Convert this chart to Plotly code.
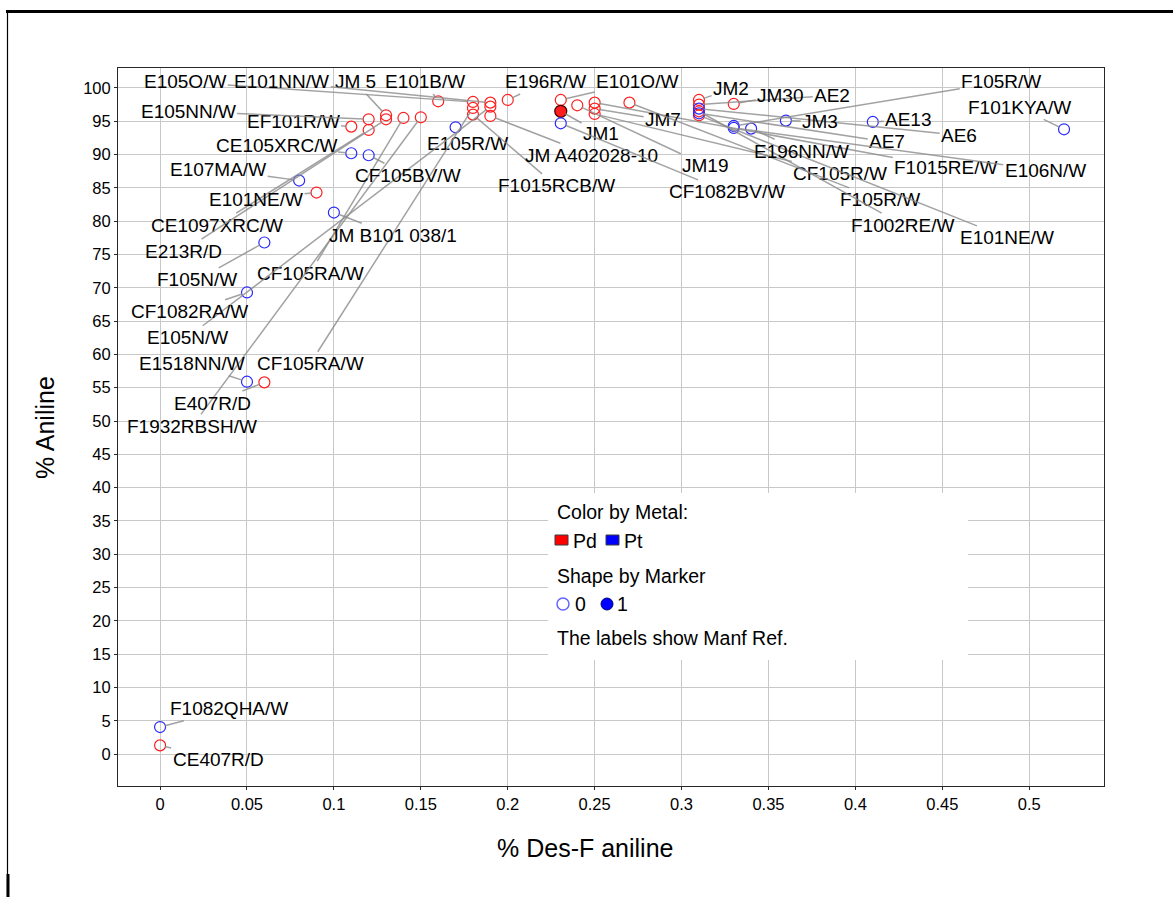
import plotly.graph_objects as go

# ---- data: % Des-F aniline vs % Aniline per catalyst ----
des_f_aniline = [
    0.110, 0.120, 0.120, 0.130, 0.130, 0.140, 0.150, 0.160, 0.170, 0.180,
    0.180, 0.180, 0.190, 0.190, 0.190, 0.200, 0.110, 0.120, 0.2305, 0.2305,
    0.2305, 0.240, 0.250, 0.250, 0.250, 0.270, 0.310, 0.310, 0.310, 0.310,
    0.310, 0.310, 0.330, 0.330, 0.330, 0.340, 0.360, 0.410, 0.520, 0.080,
    0.090, 0.100, 0.060, 0.050, 0.050, 0.060, 0.000, 0.000,
]
aniline = [
    94.2, 95.3, 93.7, 95.9, 95.3, 95.5, 95.6, 98.0, 94.1, 97.9,
    97.0, 96.0, 97.8, 97.2, 95.8, 98.2, 90.2, 89.9, 98.2, 96.5,
    94.7, 97.4, 97.8, 96.9, 96.1, 97.8, 98.2, 97.5, 96.9, 96.5,
    96.2, 95.9, 97.6, 94.3, 94.0, 93.9, 95.1, 94.9, 93.8, 86.1,
    84.3, 81.3, 76.8, 69.3, 55.9, 55.8, 4.05, 1.3,
]
metal = [
    "Pd", "Pd", "Pd", "Pd", "Pd", "Pd", "Pd", "Pd", "Pt", "Pd",
    "Pd", "Pd", "Pd", "Pd", "Pd", "Pd", "Pt", "Pt", "Pd", "Pd",
    "Pt", "Pd", "Pd", "Pd", "Pd", "Pd", "Pd", "Pd", "Pt", "Pd",
    "Pt", "Pd", "Pd", "Pt", "Pt", "Pt", "Pt", "Pt", "Pt", "Pt",
    "Pd", "Pt", "Pt", "Pt", "Pt", "Pd", "Pt", "Pd",
]
marker_flag = [0] * 19 + [1] + [0] * 28
manf_ref = [
    "EF101R/W", "E105NN/W", "CE1097XRC/W", "JM 5", "E213R/D", "CF105RA/W",
    "F1932RBSH/W", "E101B/W", "E105R/W", "E105O/W", "CF105RA/W", "F1015RCB/W",
    "E101NN/W", "E105N/W", "JM A402028-10", "E196R/W", "CE105XRC/W", "CF105BV/W",
    "E101O/W", "JM1", "CF1082BV/W", "JM19", "F1015RE/W", "JM7", "CF105R/W",
    "F105R/W", "JM2", "AE2", "AE6", "F1002RE/W", "AE7", "E101NE/W", "JM30",
    "F105R/W", "E106N/W", "E196NN/W", "JM3", "AE13", "F101KYA/W", "E107MA/W",
    "E101NE/W", "JM B101 038/1", "F105N/W", "CF1082RA/W", "E1518NN/W",
    "E407R/D", "F1082QHA/W", "CE407R/D",
]

# ---- label placement (axis units), one per point, same order ----
label_x = [
    0.0765, 0.0161, 0.0328, 0.1122, 0.0132, 0.0863, 0.0184, 0.1525, 0.1766, 0.0145,
    0.0863, 0.2278, 0.0700, 0.0155, 0.2480, 0.2215, 0.0667, 0.1427, 0.2745, 0.2537,
    0.3262, 0.3136, 0.4523, 0.2894, 0.3913, 0.4143, 0.3285, 0.3867, 0.4597, 0.4275,
    0.4183, 0.4873, 0.3567, 0.4839, 0.5092, 0.3688, 0.3797, 0.4304, 0.4942, 0.0334,
    0.0552, 0.1341, 0.0213, 0.0167, 0.0184, 0.0299, 0.0397, 0.0334,
]
label_y = [
    94.9, 96.5, 79.4, 100.9, 75.5, 72.2, 49.2, 100.9, 91.6, 100.9,
    58.6, 85.3, 100.9, 62.5, 89.9, 100.9, 91.3, 86.9, 100.9, 93.1,
    84.4, 88.4, 88.1, 95.2, 87.2, 83.2, 99.85, 98.9, 92.9, 79.4,
    91.9, 77.5, 98.9, 100.9, 87.6, 90.5, 95.0, 95.2, 97.1, 87.8,
    83.3, 77.9, 71.2, 66.4, 58.6, 52.7, 6.8, -0.75,
]

FONT = "Liberation Sans, Arial, sans-serif"
COLORS = {"Pd": "rgb(255,30,30)", "Pt": "rgb(40,40,255)"}

fig = go.Figure()

for m in ["Pd", "Pt"]:
    for flag in [0, 1]:
        idx = [i for i in range(len(aniline)) if metal[i] == m and marker_flag[i] == flag]
        if not idx:
            continue
        if flag == 0:
            mk = dict(symbol="circle-open", size=11, color=COLORS[m], line=dict(width=1.2))
        else:
            mk = dict(symbol="circle", size=12, color=COLORS[m],
                      line=dict(width=1.2, color="rgb(70,0,0)"))
        fig.add_trace(go.Scatter(
            x=[des_f_aniline[i] for i in idx],
            y=[aniline[i] for i in idx],
            mode="markers", marker=mk, showlegend=False,
            text=[manf_ref[i] for i in idx], hoverinfo="text+x+y",
        ))

annotations = []
for i in range(len(aniline)):
    annotations.append(dict(
        x=des_f_aniline[i], y=aniline[i], xref="x", yref="y",
        ax=label_x[i], ay=label_y[i], axref="x", ayref="y",
        text=manf_ref[i], showarrow=True, arrowhead=0, arrowwidth=1.5,
        arrowcolor="rgba(140,140,140,0.8)", standoff=5,
        font=dict(family=FONT, size=19, color="black"),
    ))

# plot area in pixels: x 118..1104, y 68..786
def px(xp):
    return (xp - 118) / 986.0


def py(yp):
    return (786 - yp) / 718.0


legend_font = dict(family=FONT, size=19.5, color="black")
for txt, xp, yp in [
    ("Color by Metal:", 555, 512),
    ("Pd", 571, 541),
    ("Pt", 622, 541),
    ("Shape by Marker", 555, 576),
    ("0", 573, 604),
    ("1", 615, 604),
    ("The labels show Manf Ref.", 555, 638),
]:
    annotations.append(dict(x=px(xp), y=py(yp), xref="paper", yref="paper",
                            text=txt, showarrow=False, xanchor="left",
                            yanchor="middle", font=legend_font))

annotations.append(dict(x=px(45), y=py(428), xref="paper", yref="paper",
                        text="% Aniline", showarrow=False, textangle=-90,
                        xanchor="center", yanchor="middle",
                        font=dict(family=FONT, size=25, color="black")))
annotations.append(dict(x=px(585), y=py(848), xref="paper", yref="paper",
                        text="% Des-F aniline", showarrow=False,
                        xanchor="center", yanchor="middle",
                        font=dict(family=FONT, size=25, color="black")))

shapes = [
    # legend panel
    dict(type="rect", xref="paper", yref="paper", x0=px(548), x1=px(968),
         y0=py(660), y1=py(493), fillcolor="white", line=dict(width=0), layer="above"),
    dict(type="rect", xref="paper", yref="paper", x0=px(555), x1=px(568),
         y0=py(545), y1=py(535), fillcolor="rgb(255,0,0)",
         line=dict(width=1, color="rgb(60,60,60)"), layer="above"),
    dict(type="rect", xref="paper", yref="paper", x0=px(606), x1=px(619),
         y0=py(545), y1=py(535), fillcolor="rgb(0,0,255)",
         line=dict(width=1, color="rgb(60,60,60)"), layer="above"),
    dict(type="circle", xref="paper", yref="paper", x0=px(557), x1=px(569),
         y0=py(610), y1=py(598), fillcolor="white",
         line=dict(width=1.5, color="rgb(100,100,255)"), layer="above"),
    dict(type="circle", xref="paper", yref="paper", x0=px(601), x1=px(613),
         y0=py(610), y1=py(598), fillcolor="rgb(0,0,255)",
         line=dict(width=1, color="rgb(0,0,120)"), layer="above"),
    # page frame
    dict(type="line", xref="paper", yref="paper", x0=px(6), x1=px(1173),
         y0=py(11.5), y1=py(11.5), line=dict(width=3, color="black")),
    dict(type="line", xref="paper", yref="paper", x0=px(7.5), x1=px(7.5),
         y0=py(10), y1=py(897), line=dict(width=1.2, color="black")),
    dict(type="line", xref="paper", yref="paper", x0=px(8), x1=px(8),
         y0=py(874), y1=py(897), line=dict(width=3, color="black")),
]

axis_common = dict(
    showgrid=True, gridcolor="rgb(200,200,200)", gridwidth=1,
    zeroline=False, showline=True, linecolor="rgb(40,40,40)", linewidth=1,
    mirror=True, ticks="outside", ticklen=3, tickcolor="rgb(40,40,40)",
    tickfont=dict(family=FONT, size=16.5, color="black"),
)

fig.update_layout(
    width=1173, height=897,
    margin=dict(l=118, r=69, t=68, b=111),
    paper_bgcolor="white", plot_bgcolor="white",
    showlegend=False,
    xaxis=dict(range=[-0.0242, 0.543], tickmode="linear", tick0=0, dtick=0.05,
               **axis_common),
    yaxis=dict(range=[-4.8, 103.0], tickmode="linear", tick0=0, dtick=5,
               **axis_common),
    annotations=annotations,
    shapes=shapes,
)

fig.write_html("out.html")
